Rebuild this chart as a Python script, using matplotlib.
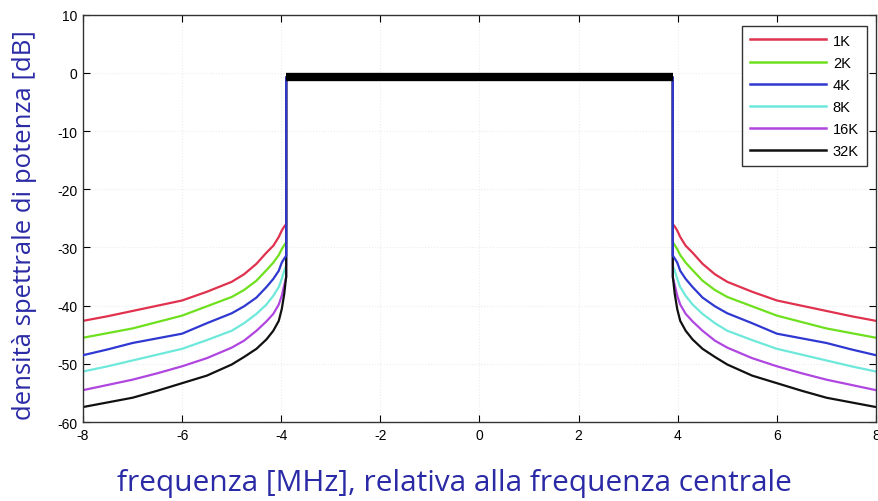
import matplotlib.pyplot as plt
import numpy as np

# Spettro DVB-T2: densità spettrale fuori banda per le varie dimensioni FFT
fft_sizes = ["1K", "2K", "4K", "8K", "16K", "32K"]
colors = ["#e0324e", "#6ee01e", "#2f38d0", "#6ee8da", "#b046e0", "#111111"]

freq_left = [-8.0, -7.5, -7.0, -6.5, -6.0, -5.5, -5.0, -4.75, -4.5, -4.3, -4.16, -4.05, -3.99, -3.94, -3.9]
psd_left = {
    "1K":  [-42.6, -41.8, -40.9, -40.0, -39.1, -37.6, -35.9, -34.6, -32.8, -30.9, -29.7, -28.2, -27.1, -26.4, -26.0],
    "2K":  [-45.5, -44.7, -43.9, -42.8, -41.7, -40.1, -38.5, -37.3, -35.7, -33.9, -32.6, -31.3, -30.3, -29.6, -29.1],
    "4K":  [-48.5, -47.5, -46.4, -45.6, -44.8, -43.0, -41.3, -40.1, -38.6, -36.8, -35.4, -34.0, -32.6, -31.9, -31.4],
    "8K":  [-51.3, -50.4, -49.4, -48.4, -47.4, -45.9, -44.3, -43.0, -41.4, -39.8, -38.3, -36.8, -35.4, -34.0, -33.1],
    "16K": [-54.5, -53.6, -52.7, -51.6, -50.4, -49.0, -47.2, -46.0, -44.3, -42.7, -41.4, -39.8, -38.3, -36.5, -35.1],
    "32K": [-57.4, -56.6, -55.8, -54.6, -53.3, -52.0, -50.1, -48.8, -47.4, -45.8, -44.3, -42.6, -40.6, -38.0, -35.0],
}
band_edge = 3.9
inband_level = -0.8

fig = plt.figure(figsize=(8.79, 5.02), dpi=100)
ax = fig.add_axes([0.0944, 0.157, 0.9022, 0.812])

tick_font = {"family": "Liberation Sans", "size": 10}
label_color = "#2a2aa6"

for name, col in zip(fft_sizes, colors):
    left = psd_left[name]
    x = np.concatenate([freq_left, [-band_edge, band_edge], -np.array(freq_left[::-1])])
    y = np.concatenate([left, [inband_level, inband_level], left[::-1]])
    z = 3 if name == "4K" else 2
    ax.plot(x, y, color=col, lw=1.6, label=name, zorder=z, solid_joinstyle="round")

# banda utile (ondulazione in banda di tutte le curve)
ax.plot([-band_edge, band_edge], [inband_level, inband_level], color="black",
        lw=6, solid_capstyle="butt", zorder=4)

ax.set_xlim(-8, 8)
ax.set_ylim(-60, 10)
ax.set_xticks(np.arange(-8, 9, 2))
ax.set_yticks(np.arange(-60, 11, 10))
ax.set_xticklabels([str(v) for v in range(-8, 9, 2)], fontdict=tick_font)
ax.set_yticklabels([str(v) for v in range(-60, 11, 10)], fontdict=tick_font)
ax.tick_params(direction="in", top=True, right=True, length=5, width=0.8, pad=4)
ax.grid(True, color="#ececec", linestyle=":", lw=0.8)
for sp in ax.spines.values():
    sp.set_color("#333333")
    sp.set_linewidth(1.0)

ax.set_xlabel("frequenza [MHz], relativa alla frequenza centrale",
              family="Open Sans", fontsize=21.5, color=label_color)
ax.xaxis.set_label_coords(0.468, -0.112)
ax.set_ylabel("densità spettrale di potenza [dB]",
              family="Open Sans", fontsize=18.5, color=label_color)
ax.yaxis.set_label_coords(-0.058, 0.487)

leg = ax.legend(loc="upper right", bbox_to_anchor=(0.9885, 0.973),
                prop={"family": "Liberation Sans", "size": 10.5},
                fancybox=False, framealpha=1, edgecolor="#333333",
                handlelength=5.2, handletextpad=0.45, labelspacing=0.55,
                borderpad=0.55, borderaxespad=0)
leg.get_frame().set_linewidth(1.0)
for line in leg.get_lines():
    line.set_linewidth(1.8)

fig.savefig("out.png", dpi=100)
